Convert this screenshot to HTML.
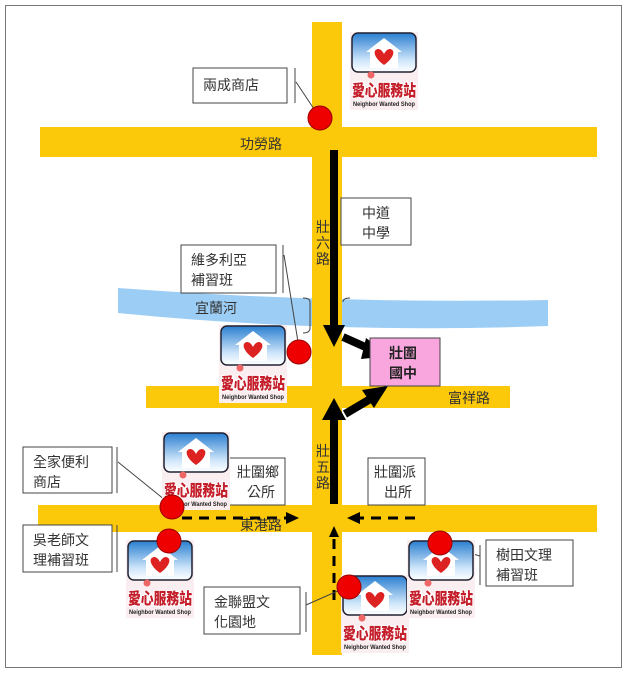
<!DOCTYPE html>
<html><head><meta charset="utf-8"><style>
body{margin:0;background:#fff;}
svg{display:block;font-family:"Liberation Sans","Noto Sans CJK TC",sans-serif;}
.lb{fill:#fff;stroke:#444;stroke-width:1}
.t{font-size:14px;fill:#333}
.lg{paint-order:stroke;}
</style></head><body>
<svg width="628" height="674" viewBox="0 0 628 674">
<defs>
<linearGradient id="bg" x1="0" y1="0" x2="0" y2="1"><stop offset="0" stop-color="#2a7fd0"/><stop offset="0.7" stop-color="#cfe6fa"/><stop offset="1" stop-color="#fff"/></linearGradient>
<g id="logo">
<rect x="0" y="0" width="68" height="78" fill="#fbeef0"/>
<rect x="2" y="1" width="64" height="39" rx="6" fill="url(#bg)" stroke="#223" stroke-width="1.5"/>
<path d="M34 6 L16 20 L20 20 L20 36 L48 36 L48 20 L52 20 Z" fill="#fff"/>
<path d="M34 33 C24 26 22 18 28 17 C31 17 33 20 34 22 C35 20 37 17 40 17 C46 18 44 26 34 33Z" fill="#d22"/>
<circle cx="21" cy="43" r="3.5" fill="#e66"/>
<text class="lg" x="34" y="64" text-anchor="middle" font-size="16" font-weight="900" fill="#c41e2a" stroke="#fff" stroke-width="2" textLength="64" lengthAdjust="spacingAndGlyphs">愛心服務站</text>
<text x="34" y="74" text-anchor="middle" font-size="6.5" font-weight="bold" fill="#222" textLength="62" lengthAdjust="spacingAndGlyphs">Neighbor Wanted Shop</text>
</g>
</defs>
<rect x="5.5" y="5.5" width="616" height="662" fill="#fff" stroke="#777"/>
<path d="M118 288 Q330 304 548 300 L548 326 Q330 334 118 313 Z" fill="#9ccdf5"/>
<rect x="312" y="22" width="30" height="633" fill="#fcc80a"/>
<rect x="40" y="127" width="557" height="30" fill="#fcc80a"/>
<rect x="146" y="386" width="364" height="22" fill="#fcc80a"/>
<rect x="38" y="505" width="559" height="27" fill="#fcc80a"/>
<rect x="330" y="150" width="8" height="178" fill="#000"/>
<path d="M323 325 L345 325 L334 347 Z" fill="#000"/>
<line x1="343" y1="337" x2="372" y2="350" stroke="#000" stroke-width="8"/>
<path d="M366 338 L390 356 L361 359 Z" fill="#000"/>
<rect x="330" y="418" width="8" height="86" fill="#000"/>
<path d="M322 420 L346 420 L334 398 Z" fill="#000"/>
<line x1="345" y1="414" x2="372" y2="398" stroke="#000" stroke-width="8"/>
<path d="M362 390 L388 386 L374 408 Z" fill="#000"/>
<line x1="182" y1="518" x2="288" y2="518" stroke="#000" stroke-width="3" stroke-dasharray="10,7"/>
<path d="M286 512 L299 518 L286 524Z" fill="#000"/>
<line x1="415" y1="518" x2="358" y2="518" stroke="#000" stroke-width="3" stroke-dasharray="10,7"/>
<path d="M360 512 L347 518 L360 524Z" fill="#000"/>
<line x1="334" y1="600" x2="334" y2="535" stroke="#000" stroke-width="3" stroke-dasharray="10,7"/>
<path d="M329 537 L334 526 L339 537Z" fill="#000"/>
<rect x="370" y="338" width="70" height="48" fill="#f9a6de" stroke="#444"/>
<text x="389" y="358" font-size="14" font-weight="bold" fill="#222">壯圍</text>
<text x="389" y="378" font-size="14" font-weight="bold" fill="#222">國中</text>
<text x="240" y="149" class="t">功勞路</text>
<text x="448" y="403" class="t">富祥路</text>
<text x="240" y="530" class="t">東港路</text>
<text x="195" y="313" class="t">宜蘭河</text>
<text x="323" y="232" text-anchor="middle" class="t">壯</text>
<text x="323" y="248" text-anchor="middle" class="t">六</text>
<text x="323" y="264" text-anchor="middle" class="t">路</text>
<text x="323" y="456" text-anchor="middle" class="t">壯</text>
<text x="323" y="472" text-anchor="middle" class="t">五</text>
<text x="323" y="488" text-anchor="middle" class="t">路</text>
<rect class="lb" x="193" y="68" width="94" height="35"/><text x="203" y="90" class="t">兩成商店</text>
<line x1="295" y1="68" x2="295" y2="103" stroke="#444"/>
<line x1="296" y1="82" x2="316" y2="112" stroke="#444"/>
<rect class="lb" x="341" y="198" width="70" height="47"/><text x="362" y="218" class="t">中道</text><text x="362" y="238" class="t">中學</text>
<rect class="lb" x="181" y="245" width="95" height="48"/><text x="191" y="265" class="t">維多利亞</text><text x="191" y="285" class="t">補習班</text>
<line x1="283" y1="245" x2="283" y2="293" stroke="#444"/>
<line x1="284" y1="255" x2="298" y2="342" stroke="#444"/>
<path d="M303 298 Q310 298 310 302 L310 328 Q310 333 303 333" fill="none" stroke="#444"/>
<path d="M350 298 Q343 298 343 302" fill="none" stroke="#444"/>
<rect class="lb" x="23" y="447" width="89" height="46"/><text x="33" y="467" class="t">全家便利</text><text x="33" y="487" class="t">商店</text>
<line x1="117" y1="447" x2="117" y2="493" stroke="#444"/>
<line x1="118" y1="462" x2="165" y2="500" stroke="#444"/>
<rect class="lb" x="228" y="458" width="57" height="47"/><text x="237" y="477" class="t">壯圍鄉</text><text x="247" y="497" class="t">公所</text>
<rect class="lb" x="368" y="458" width="57" height="47"/><text x="374" y="477" class="t">壯圍派</text><text x="384" y="497" class="t">出所</text>
<rect class="lb" x="23" y="525" width="89" height="47"/><text x="33" y="545" class="t">吳老師文</text><text x="33" y="565" class="t">理補習班</text>
<line x1="117" y1="525" x2="117" y2="572" stroke="#444"/>
<rect class="lb" x="486" y="540" width="87" height="46"/><text x="496" y="560" class="t">樹田文理</text><text x="496" y="580" class="t">補習班</text>
<line x1="480" y1="545" x2="480" y2="585" stroke="#444"/>
<line x1="452" y1="548" x2="480" y2="556" stroke="#444"/>
<rect class="lb" x="204" y="587" width="96" height="47"/><text x="214" y="607" class="t">金聯盟文</text><text x="214" y="627" class="t">化園地</text>
<line x1="306" y1="592" x2="306" y2="632" stroke="#444"/>
<line x1="306" y1="605" x2="340" y2="590" stroke="#444"/>
<use href="#logo" x="350" y="32"/>
<use href="#logo" x="219" y="325"/>
<use href="#logo" x="162" y="432"/>
<use href="#logo" x="126" y="540"/>
<use href="#logo" x="341" y="575"/>
<use href="#logo" x="407" y="540"/>
<g fill="#e00" stroke="#900" stroke-width="1">
<circle cx="320" cy="118" r="12"/>
<circle cx="299" cy="352" r="12"/>
<circle cx="172" cy="507" r="12"/>
<circle cx="169" cy="541" r="12"/>
<circle cx="349" cy="587" r="12"/>
<circle cx="440" cy="543" r="12"/>
</g>
</svg>
</body></html>
